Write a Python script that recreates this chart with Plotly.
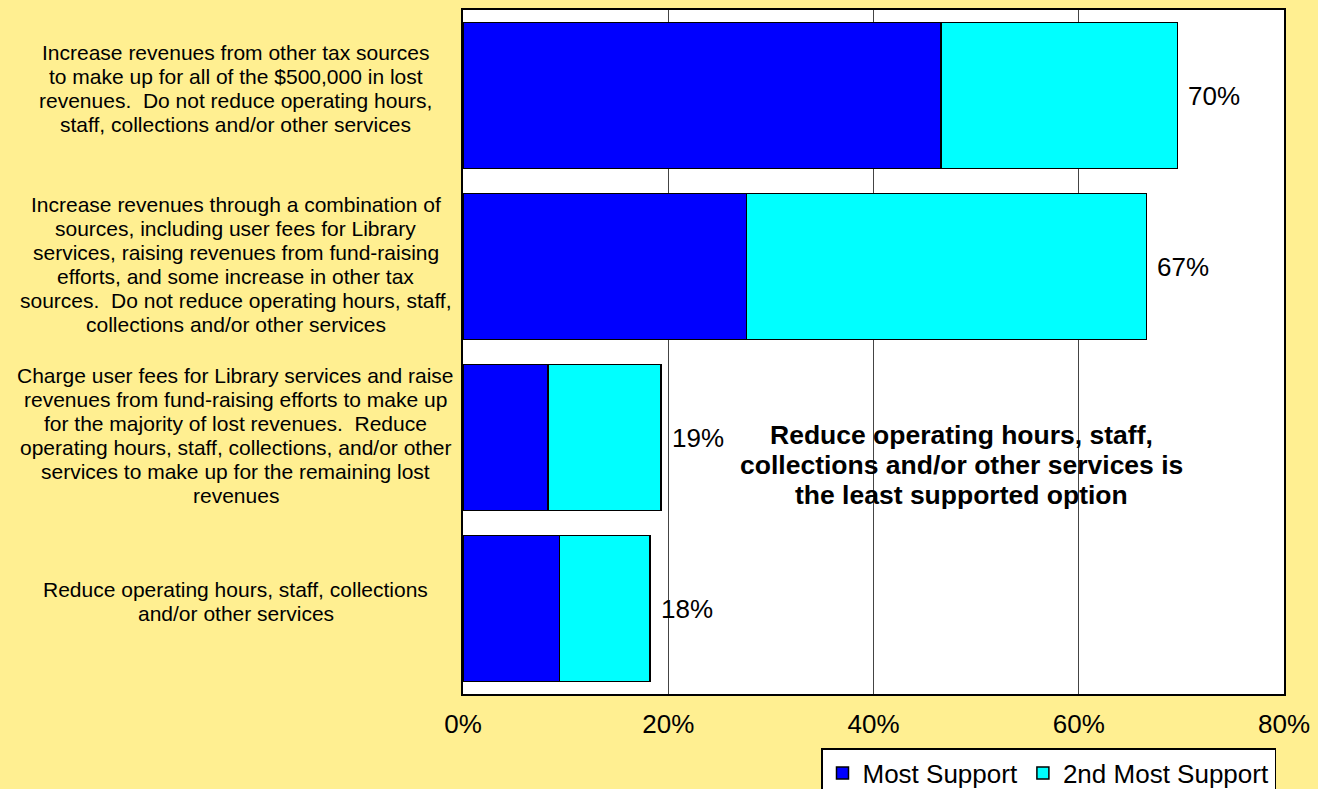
import plotly.graph_objects as go

# ---- data ----
label_lines = [
    ["Increase revenues from other tax sources",
     "to make up for all of the $500,000 in lost",
     "revenues.\u00a0 Do not reduce operating hours,",
     "staff, collections and/or other services"],
    ["Increase revenues through a combination of",
     "sources, including user fees for Library",
     "services, raising revenues from fund-raising",
     "efforts, and some increase in other tax",
     "sources.\u00a0 Do not reduce operating hours, staff,",
     "collections and/or other services"],
    ["Charge user fees for Library services and raise",
     "revenues from fund-raising efforts to make up",
     "for the majority of lost revenues.\u00a0 Reduce",
     "operating hours, staff, collections, and/or other",
     "services to make up for the remaining lost",
     "revenues"],
    ["Reduce operating hours, staff, collections",
     "and/or other services"],
]
categories = [" ".join(l) for l in label_lines]
most_support = [46.6, 27.6, 8.3, 9.4]
second_support = [23.0, 39.0, 11.0, 8.8]
series_names = ["Most Support", "2nd Most Support"]
x_ticks = [0, 20, 40, 60, 80]
x_tick_labels = ["0%", "20%", "40%", "60%", "80%"]
note_lines = ["Reduce operating hours, staff,",
              "collections and/or other services is",
              "the least supported option"]

totals = [a + b for a, b in zip(most_support, second_support)]
total_labels = [f"{round(t)}%" for t in totals]

# layout-only settings
FONT = "Liberation Sans, Arial, sans-serif"
BG = "#FFEF91"
label_block_shift = [7, 2, 2, 7]   # px, vertical nudge of each label block

fig = go.Figure()
fig.add_trace(go.Bar(
    y=categories, x=most_support, orientation="h", name=series_names[0],
    marker=dict(color="#0000FF", line=dict(color="#000000", width=1.5)),
    hoverinfo="x+name",
))
fig.add_trace(go.Bar(
    y=categories, x=second_support, orientation="h", name=series_names[1],
    marker=dict(color="#00FFFF", line=dict(color="#000000", width=1.5)),
    hoverinfo="x+name",
))

annotations = []
# total labels
for cat, tot, lab in zip(categories, totals, total_labels):
    annotations.append(dict(
        x=tot, y=cat, xref="x", yref="y", text=lab, showarrow=False,
        xanchor="left", yanchor="middle", xshift=9,
        font=dict(family=FONT, size=26, color="#000000"),
    ))
# category labels (centered, line by line)
LINE = 24
for cat, lines, sh in zip(categories, label_lines, label_block_shift):
    n = len(lines)
    for i, ln in enumerate(lines):
        annotations.append(dict(
            x=-0.2768, y=cat, xref="paper", yref="y", text=ln, showarrow=False,
            xanchor="center", yanchor="middle",
            yshift=((n - 1) / 2 - i) * LINE + sh,
            font=dict(family=FONT, size=21, color="#000000"),
        ))
# note (bold, line by line)
NOTE_LINE = 30
for i, ln in enumerate(note_lines):
    annotations.append(dict(
        x=0.6075, y=0.335, xref="paper", yref="paper", text="<b>" + ln + "</b>",
        showarrow=False, xanchor="center", yanchor="middle",
        yshift=(1 - i) * NOTE_LINE,
        font=dict(family=FONT, size=26.5, color="#000000"),
    ))

fig.update_layout(
    barmode="stack",
    bargap=0.149,
    width=1318, height=789,
    margin=dict(l=463, r=29, t=8, b=95),
    paper_bgcolor=BG,
    plot_bgcolor="#FFFFFF",
    font=dict(family=FONT, size=26, color="#000000"),
    showlegend=True,
    legend=dict(
        orientation="h", xref="container", yref="container",
        x=1276 / 1318, y=1 - 748 / 789, xanchor="right", yanchor="top",
        bgcolor="#FFFFFF", bordercolor="#000000", borderwidth=1.5,
        font=dict(family=FONT, size=26, color="#000000"),
        traceorder="normal",
    ),
    annotations=annotations,
    xaxis=dict(
        range=[0, 80], tickvals=x_ticks, ticktext=x_tick_labels,
        showgrid=True, gridcolor="#444444", gridwidth=1,
        showline=True, linecolor="#000000", linewidth=1.5, mirror=True,
        ticks="", ticklabelstandoff=6, zeroline=False,
        ticklabeloverflow="allow",
        tickfont=dict(family=FONT, size=26, color="#000000"),
        fixedrange=True,
    ),
    yaxis=dict(
        categoryorder="array", categoryarray=categories, autorange="reversed",
        showticklabels=False, ticks="", showgrid=False,
        showline=True, linecolor="#000000", linewidth=1.5, mirror=True,
        fixedrange=True,
    ),
)

fig.write_html(
    "out.html",
    config={"displayModeBar": False},
    post_script="document.body.style.margin='0';document.body.style.overflow='hidden';",
)
